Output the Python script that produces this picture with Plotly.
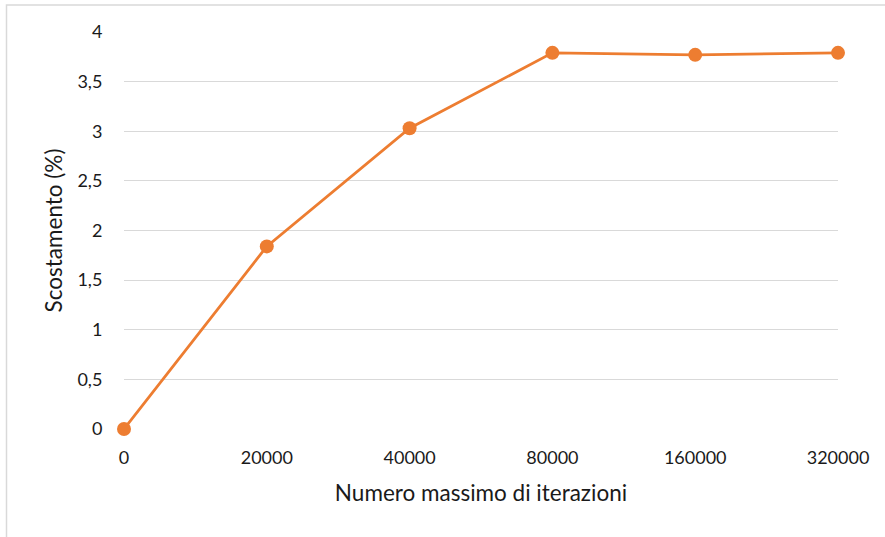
import plotly.graph_objects as go

categories = ["0", "20000", "40000", "80000", "160000", "320000"]
values = [0, 1.84, 3.03, 3.79, 3.77, 3.79]
y_ticks = [0, 0.5, 1, 1.5, 2, 2.5, 3, 3.5, 4]

W, H = 885, 537
L, T = 124, 32
pw, ph = 714, 397
R = W - L - pw
B = H - T - ph

def px_x(p):
    return (p - L) / pw

def px_y(p):
    return (T + ph - p) / ph

fig = go.Figure()
fig.add_trace(go.Scatter(
    x=categories, y=values, mode="lines+markers",
    line=dict(color="#ED7D31", width=2.8),
    marker=dict(color="#ED7D31", size=14),
    cliponaxis=False, showlegend=False,
))

font_family = "Lato, 'Open Sans', sans-serif"
fig.update_layout(
    width=W, height=H,
    margin=dict(l=L, r=R, t=T, b=B),
    paper_bgcolor="white", plot_bgcolor="white",
    separators=", ",
    font=dict(family=font_family, size=18, color="#1a1a1a"),
    xaxis=dict(
        type="category", range=[0, 5],
        showgrid=False, showline=False, zeroline=False,
        ticks="outside", ticklen=12, tickcolor="rgba(0,0,0,0)",
        tickfont=dict(size=18),
        title=dict(text="Numero massimo di iterazioni", font=dict(size=22.5), standoff=18),
    ),
    yaxis=dict(
        range=[0, 4], tickvals=y_ticks,
        showgrid=True, gridcolor="#D9D9D9", gridwidth=1.2,
        zeroline=False, showline=False,
        ticks="outside", ticklen=17, tickcolor="rgba(0,0,0,0)",
        tickfont=dict(size=18),
        title=dict(text="Scostamento (%)", font=dict(size=22.5), standoff=8),
    ),
    shapes=[dict(
        type="rect", xref="paper", yref="paper",
        x0=px_x(6.5), x1=px_x(900), y0=px_y(550), y1=px_y(5),
        line=dict(color="#D9D9D9", width=1.5), layer="below",
    )],
)

fig.write_html("out.html", config={"displayModeBar": False},
               post_script="document.body.style.margin='0px';")
